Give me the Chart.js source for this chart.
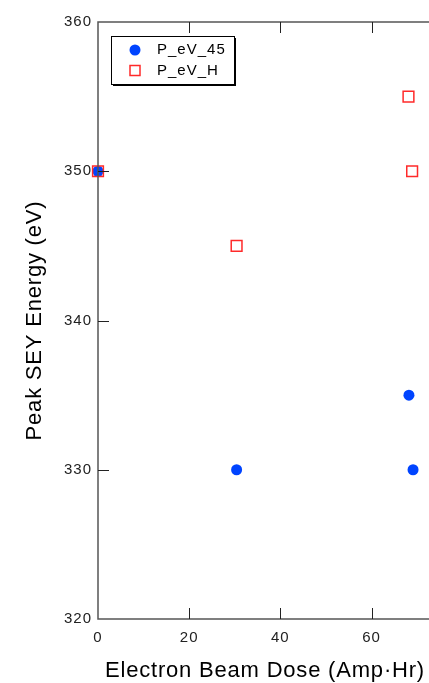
<!DOCTYPE html>
<html>
<head>
<meta charset="utf-8">
<script src="https://cdn.jsdelivr.net/npm/chart.js@4"></script>
<style>
  html, body { margin: 0; padding: 0; background: #fff; }
  #wrap { width: 429px; height: 683px; }
</style>
</head>
<body>
<div id="wrap"><canvas id="chart" width="429" height="683"></canvas></div>
<script>
// Data
const doseX = [0, 30.4, 68.2, 69.1];
const peak45 = [350, 330, 335, 330];
const doseH = [0, 30.4, 68.1, 68.9];
const peakH = [350, 345, 355, 350];
const xTicks = [0, 20, 40, 60];
const yTicks = [320, 330, 340, 350, 360];
const seriesNames = ['P_eV_45', 'P_eV_H'];

const toPts = (xs, ys) => xs.map((x, i) => ({ x: x, y: ys[i] }));

// axis frame, inward ticks, titles and legend box
const framePlugin = {
    id: 'frame',
    beforeDraw(chart) {
        // the original font is a bit wider spaced
        chart.ctx.letterSpacing = '1px';
    },
    afterDraw(chart) {
        const ctx = chart.ctx;
        const a = chart.chartArea;
        const xs = chart.scales.x, ys = chart.scales.y;
        ctx.save();
        ctx.strokeStyle = '#555';
        ctx.lineWidth = 1.5;
        ctx.beginPath();
        ctx.moveTo(a.right + 5, a.top);
        ctx.lineTo(a.left, a.top);
        ctx.lineTo(a.left, a.bottom);
        ctx.lineTo(a.right + 5, a.bottom);
        ctx.stroke();

        ctx.strokeStyle = '#222';
        ctx.lineWidth = 1;
        ctx.beginPath();
        xTicks.forEach(v => {
            const px = Math.round(xs.getPixelForValue(v)) + 0.5;
            if (v === 0) return;
            ctx.moveTo(px, a.bottom); ctx.lineTo(px, a.bottom - 11);
            ctx.moveTo(px, a.top); ctx.lineTo(px, a.top + 11);
        });
        yTicks.forEach(v => {
            const py = Math.round(ys.getPixelForValue(v)) + 0.5;
            if (v === 320 || v === 360) return;
            ctx.moveTo(a.left, py); ctx.lineTo(a.left + 11, py);
        });
        ctx.stroke();

        // axis titles
        ctx.fillStyle = '#000';
        ctx.letterSpacing = '0.8px';
        ctx.font = '22px "Liberation Sans", Arial, sans-serif';
        ctx.textAlign = 'center';
        ctx.textBaseline = 'alphabetic';
        ctx.fillText('Electron Beam Dose (Amp\u00B7Hr)', 265, 677);
        ctx.save();
        ctx.translate(41, (a.top + a.bottom) / 2);
        ctx.rotate(-Math.PI / 2);
        ctx.fillText('Peak SEY Energy (eV)', 0, 0);
        ctx.restore();

        // legend box
        const bx = 111, by = 36, bw = 123, bh = 48;
        ctx.fillStyle = '#fff';
        ctx.fillRect(bx, by, bw, bh);
        ctx.fillStyle = '#000';
        ctx.fillRect(bx + 2, by + bh, bw, 2);
        ctx.fillRect(bx + bw, by + 2, 2, bh);
        ctx.strokeStyle = '#000';
        ctx.lineWidth = 1;
        ctx.strokeRect(bx + 0.5, by + 0.5, bw, bh);

        const ds = chart.data.datasets;
        ctx.fillStyle = ds[0].backgroundColor;
        ctx.beginPath();
        ctx.arc(135, 50, 5.5, 0, Math.PI * 2);
        ctx.fill();
        ctx.strokeStyle = ds[1].borderColor;
        ctx.lineWidth = 1.5;
        ctx.strokeRect(130, 65.5, 10, 10);

        ctx.fillStyle = '#000';
        ctx.letterSpacing = '1px';
        ctx.font = '15px "Liberation Sans", Arial, sans-serif';
        ctx.textAlign = 'left';
        ctx.textBaseline = 'middle';
        ctx.fillText(seriesNames[0], 157, 50);
        ctx.fillText(seriesNames[1], 157, 71);
        ctx.restore();
        ctx.letterSpacing = '0px';
    }
};

new Chart(document.getElementById('chart'), {
    type: 'scatter',
    data: {
        datasets: [
            {
                label: seriesNames[0],
                data: toPts(doseX, peak45),
                backgroundColor: '#0044ff',
                borderColor: '#0044ff',
                pointStyle: 'circle',
                pointRadius: 5.5,
                pointBorderWidth: 0,
                clip: false,
                order: 1
            },
            {
                label: seriesNames[1],
                data: toPts(doseH, peakH),
                backgroundColor: 'rgba(0,0,0,0)',
                borderColor: '#ff2a2a',
                pointStyle: 'rect',
                pointRadius: 7.6,
                pointBorderWidth: 1.5,
                clip: false,
                order: 0
            }
        ]
    },
    options: {
        responsive: false,
        animation: false,
        events: [],
        layout: { autoPadding: false, padding: { top: 22, right: 0, left: 0, bottom: 0 } },
        plugins: {
            legend: { display: false },
            tooltip: { enabled: false }
        },
        scales: {
            x: {
                type: 'linear',
                min: 0,
                max: 72.6,
                afterFit: s => { s.height = 64; s.paddingLeft = 0; s.paddingRight = 0; },
                afterBuildTicks: s => { s.ticks = xTicks.map(v => ({ value: v })); },
                grid: { display: false, drawTicks: false },
                border: { display: false },
                ticks: {
                    padding: 10,
                    maxRotation: 0,
                    color: '#222',
                    font: { family: '"Liberation Sans", Arial, sans-serif', size: 15 }
                }
            },
            y: {
                type: 'linear',
                min: 320,
                max: 360,
                afterFit: s => { s.width = 98; s.paddingTop = 0; s.paddingBottom = 0; },
                afterBuildTicks: s => { s.ticks = yTicks.map(v => ({ value: v })); },
                grid: { display: false, drawTicks: false },
                border: { display: false },
                ticks: {
                    padding: 6,
                    color: '#222',
                    font: { family: '"Liberation Sans", Arial, sans-serif', size: 15 }
                }
            }
        }
    },
    plugins: [framePlugin]
});
</script>
</body>
</html>
